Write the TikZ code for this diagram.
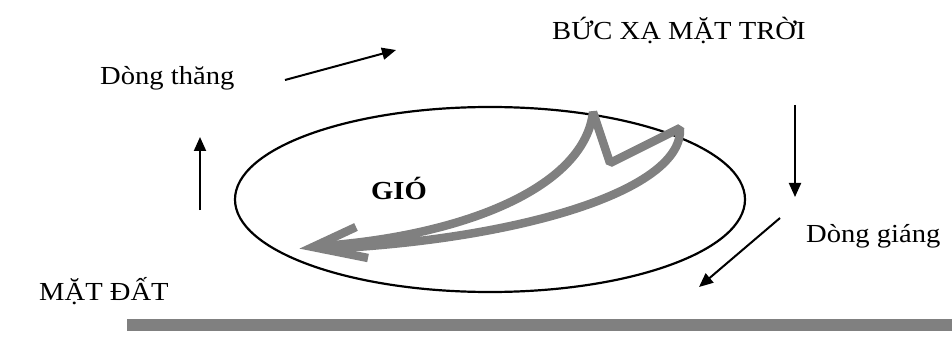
\documentclass[tikz,border=0pt]{standalone}
\usepackage{fontspec}
\setmainfont{Liberation Serif}[FakeStretch=1.1]
\usetikzlibrary{arrows.meta,shapes.geometric}
\definecolor{windgray}{RGB}{128,128,128}
\tikzset{
  lbl/.style={font=\fontsize{26}{30}\selectfont, inner sep=0pt, anchor=base west},
  flow/.style={line width=2pt, -{Triangle[length=14pt,width=12pt]}},
  wind/.style={draw=windgray, line width=8.5pt, line join=bevel}
}
\begin{document}
\begin{tikzpicture}[x=1pt,y=-1pt]
\useasboundingbox (0,0) rectangle (952,339);
% labels
\node[lbl] (sun) at (552,40) {BỨC XẠ MẶT TRỜI};
\node[lbl] (up) at (100,85) {Dòng thăng};
\node[lbl] (down) at (806,242) {Dòng giáng};
\node[lbl] (ground) at (39,300) {MẶT ĐẤT};
\node[lbl, font=\fontsize{26}{30}\selectfont\bfseries] (gio) at (371,200) {GIÓ};
% ellipse
\node[draw, line width=2.2pt, ellipse, minimum width=510pt, minimum height=185pt, inner sep=0pt] (cell) at (490,199.5) {};
% flow arrows
\coordinate (a1s) at (285,80); \coordinate (a1e) at (396,50);
\coordinate (a2s) at (200,210); \coordinate (a2e) at (200,137);
\coordinate (a3s) at (795,105); \coordinate (a3e) at (795,197);
\coordinate (a4s) at (780,218); \coordinate (a4e) at (699,287);
\draw[flow] (a1s) -- (a1e);
\draw[flow] (a2s) -- (a2e);
\draw[flow] (a3s) -- (a3e);
\draw[flow] (a4s) -- (a4e);
% wind arrow
\coordinate (w0) at (322,246);
\coordinate (w1) at (593,112);
\coordinate (w2) at (610,163);
\coordinate (w3) at (680,128);
\coordinate (w4) at (322,249);
\draw[wind] (w0) .. controls (470,235) and (585,185) .. (w1) -- (w2) -- (w3)
  .. controls (684,190) and (520,240) .. (w4);
\coordinate (h1) at (356,227);
\coordinate (tip) at (313,247);
\coordinate (h2) at (368,258);
\draw[wind, line join=miter] (h1) -- (tip) -- (h2);
% ground
\fill[windgray] (127,319) rectangle (952,331);
\end{tikzpicture}
\end{document}
